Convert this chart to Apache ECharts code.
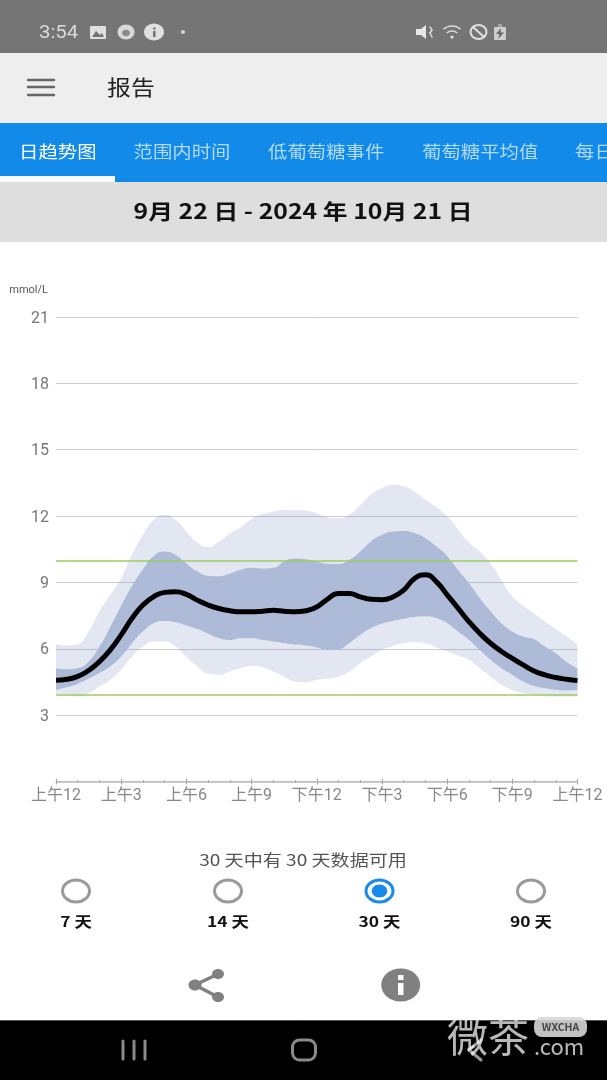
<!DOCTYPE html>
<html>
<head>
    <meta charset="utf-8">
    <title>报告</title>
    <script src="https://cdn.jsdelivr.net/npm/echarts@6/dist/echarts.min.js"></script>
    <style>
        html, body { margin: 0; padding: 0; background: #fff; }
    </style>
</head>
<body>
<div id="main" style="width: 607px;height:1080px;"></div>
<script type="text/javascript">
    var FONT = '"Noto Sans CJK SC", sans-serif';
    var NUM_FONT = 'Roboto, "Noto Sans CJK SC", sans-serif';

    // hour, p5, p25, p50, p75, p95 (mmol/L)
    var rows = [
        [0, 3.99, 4.14, 4.58, 5.12, 6.20],
        [0.5, 3.89, 4.26, 4.62, 5.08, 6.15],
        [1, 3.84, 4.41, 4.75, 5.12, 6.20],
        [1.5, 3.99, 4.64, 5.02, 5.42, 6.78],
        [2, 4.29, 4.90, 5.42, 6.10, 7.70],
        [2.5, 4.60, 5.20, 5.95, 7.00, 8.44],
        [3, 5.05, 5.65, 6.63, 7.95, 9.20],
        [3.5, 5.65, 6.25, 7.38, 8.85, 10.25],
        [4, 6.10, 6.78, 7.98, 9.60, 11.15],
        [4.5, 6.33, 7.16, 8.36, 10.20, 11.83],
        [5, 6.33, 7.26, 8.55, 10.40, 12.06],
        [5.5, 6.10, 7.20, 8.58, 10.25, 11.83],
        [6, 5.65, 7.05, 8.46, 9.86, 11.30],
        [6.5, 5.20, 6.89, 8.20, 9.50, 10.80],
        [7, 4.87, 6.68, 7.98, 9.30, 10.60],
        [7.5, 4.82, 6.48, 7.82, 9.28, 10.85],
        [8, 4.97, 6.40, 7.72, 9.40, 11.20],
        [8.5, 5.12, 6.48, 7.67, 9.57, 11.50],
        [9, 5.23, 6.48, 7.67, 9.66, 11.87],
        [9.5, 5.17, 6.40, 7.70, 9.63, 12.10],
        [10, 4.97, 6.33, 7.74, 9.66, 12.20],
        [10.5, 4.75, 6.25, 7.70, 9.95, 12.27],
        [11, 4.52, 6.18, 7.67, 10.08, 12.27],
        [11.5, 4.49, 6.15, 7.72, 10.05, 12.25],
        [12, 4.60, 6.06, 7.89, 9.95, 12.13],
        [12.5, 4.64, 5.95, 8.25, 9.84, 11.95],
        [13, 4.75, 5.98, 8.50, 9.83, 11.90],
        [13.5, 4.97, 6.25, 8.50, 10.02, 12.06],
        [14, 5.35, 6.63, 8.35, 10.40, 12.50],
        [14.5, 5.65, 6.93, 8.24, 10.85, 12.97],
        [15, 5.95, 7.13, 8.22, 11.15, 13.27],
        [15.5, 6.13, 7.26, 8.34, 11.30, 13.42],
        [16, 6.25, 7.35, 8.65, 11.33, 13.35],
        [16.5, 6.30, 7.44, 9.18, 11.23, 13.10],
        [17, 6.25, 7.46, 9.35, 11.00, 12.74],
        [17.5, 6.06, 7.38, 9.04, 10.63, 12.40],
        [18, 5.88, 7.16, 8.44, 10.20, 12.00],
        [18.5, 5.70, 6.78, 7.84, 9.57, 11.40],
        [19, 5.50, 6.40, 7.23, 8.97, 10.80],
        [19.5, 5.12, 5.95, 6.70, 8.30, 10.40],
        [20, 4.75, 5.50, 6.25, 7.70, 9.87],
        [20.5, 4.37, 5.12, 5.88, 7.16, 9.10],
        [21, 4.14, 4.82, 5.57, 6.78, 8.36],
        [21.5, 3.99, 4.52, 5.27, 6.55, 7.94],
        [22, 3.92, 4.32, 5.00, 6.43, 7.60],
        [22.5, 3.87, 4.22, 4.82, 6.10, 7.23],
        [23, 3.84, 4.14, 4.70, 5.80, 6.90],
        [23.5, 3.84, 4.11, 4.62, 5.40, 6.55],
        [24, 3.84, 4.14, 4.56, 5.12, 6.18]
    ];

    var hourLabels = {0: '上午12', 3: '上午3', 6: '上午6', 9: '上午9', 12: '下午12', 15: '下午3', 18: '下午6', 21: '下午9', 24: '上午12'};

    // stacked bands are drawn from the difference between two percentile columns
    function band(from, to) {
        return rows.map(function (r) {
            return from < 0 ? r[to] : +(r[to] - r[from]).toFixed(2);
        });
    }

    function bandSeries(name, data, color) {
        return {
            name: name,
            type: 'line',
            xAxisIndex: 2,
            stack: 'agp',
            smooth: true,
            symbol: 'none',
            silent: true,
            z: 2,
            lineStyle: {width: 0, opacity: 0},
            areaStyle: color ? {color: color, opacity: 1} : {opacity: 0},
            data: data
        };
    }

    // the screenshot is stretched sideways, so text takes a horizontal scale
    function text(x, y, str, size, color, weight, align, sx) {
        return {
            type: 'text', x: x, y: y, scaleX: sx || 1, silent: true,
            style: {
                text: str, fill: color, align: align || 'left', verticalAlign: 'middle',
                font: (weight || 'normal') + ' ' + size + 'px ' + FONT
            }
        };
    }
    function rect(x, y, w, h, fill, r) {
        return {type: 'rect', silent: true, shape: {x: x, y: y, width: w, height: h, r: r || 0}, style: {fill: fill}};
    }
    function line(x1, y1, x2, y2, color, width) {
        return {
            type: 'line', silent: true, shape: {x1: x1, y1: y1, x2: x2, y2: y2},
            style: {stroke: color, lineWidth: width, lineCap: 'round'}
        };
    }
    function oval(cx, cy, rx, ry, fill, stroke, width) {
        return {
            type: 'ellipse', silent: true, shape: {cx: cx, cy: cy, rx: rx, ry: ry},
            style: {fill: fill || 'transparent', stroke: stroke || null, lineWidth: width || 0}
        };
    }

    var ui = [
        // status bar
        rect(0, 0, 607, 53, '#757575'),
        {type: 'text', x: 39, y: 33, scaleX: 1.1, silent: true, style: {text: '3:54', fill: '#dcdcdc', verticalAlign: 'middle', font: '18.5px ' + NUM_FONT}},
        rect(90, 26, 16, 13, '#e0e0e0', 1),
        {type: 'polygon', silent: true, shape: {points: [[92, 37], [96, 31], [100, 35], [102, 33], [104, 37]]}, style: {fill: '#757575'}},
        oval(126, 32, 8.5, 7.5, '#d8d8d8'),
        oval(126, 33, 4, 3.2, '#8a8a8a'),
        oval(154, 32, 10, 8.5, '#e0e0e0'),
        rect(153, 31, 2.6, 6, '#757575'),
        rect(153, 27.5, 2.6, 2, '#757575'),
        oval(183, 32, 2, 2, '#d8d8d8'),
        {type: 'polygon', silent: true, shape: {points: [[416, 29], [421, 29], [426, 25], [426, 39], [421, 35], [416, 35]]}, style: {fill: '#e8e8e8'}},
        line(430, 27, 432, 30, '#e0e0e0', 1.4),
        line(432, 30, 430, 33, '#e0e0e0', 1.4),
        line(430, 33, 432, 37, '#e0e0e0', 1.4),
        {type: 'arc', silent: true, shape: {cx: 452, cy: 39, r: 13, startAngle: -2.3, endAngle: -0.85}, style: {stroke: '#d8d8d8', lineWidth: 1.5, fill: 'none'}},
        {type: 'arc', silent: true, shape: {cx: 452, cy: 39, r: 8, startAngle: -2.3, endAngle: -0.85}, style: {stroke: '#d8d8d8', lineWidth: 1.5, fill: 'none'}},
        oval(452, 37, 1.6, 1.6, '#e0e0e0'),
        oval(478.5, 32, 8, 7, null, '#e0e0e0', 2),
        line(473, 27, 484, 37, '#e0e0e0', 2),
        rect(494, 27, 12, 13, '#cfcfcf', 1),
        rect(498, 24, 4, 3, '#a8a8a8'),
        {type: 'polygon', silent: true, shape: {points: [[501, 28], [496, 34], [499.5, 34], [498, 39], [504, 32.5], [500.5, 32.5]]}, style: {fill: '#666'}},

        // app bar
        rect(0, 53, 607, 70, '#eeeeee'),
        line(28, 80, 54, 80, '#666', 2.4),
        line(28, 87, 54, 87, '#666', 2.4),
        line(28, 95, 54, 95, '#666', 2.4),
        text(107, 87, '报告', 21, '#222', 'normal', 'left', 1.14),

        // tabs
        rect(0, 123, 607, 59, '#118aea'),
        text(19, 152, '日趋势图', 17, '#ffffff', 'normal', 'left', 1.14),
        text(133.5, 152, '范围内时间', 17, '#b4dafa', 'normal', 'left', 1.14),
        text(268, 152, '低葡萄糖事件', 17, '#b4dafa', 'normal', 'left', 1.14),
        text(422, 152, '葡萄糖平均值', 17, '#b4dafa', 'normal', 'left', 1.14),
        text(575, 152, '每日', 17, '#b4dafa', 'normal', 'left', 1.14),
        rect(0, 176, 115, 6, '#f6fbff'),

        // date bar
        rect(0, 182, 607, 60, '#dedede'),
        text(303, 211, '9月 22 日 - 2024 年 10月 21 日', 21, '#111', 'bold', 'center', 1.18),

        // period picker
        text(303, 860, '30 天中有 30 天数据可用', 15.5, '#555', 'normal', 'center', 1.23),
        oval(76, 891, 13.5, 11, null, '#9a9a9a', 3),
        oval(228, 891, 13.5, 11, null, '#9a9a9a', 3),
        oval(379.5, 891, 13.5, 11, null, '#1a8ae8', 3),
        oval(379.5, 891, 7.8, 6.5, '#1a8ae8'),
        oval(531, 891, 13.5, 11, null, '#9a9a9a', 3),
        text(76, 921.5, '7 天', 14.5, '#111', 'bold', 'center', 1.2),
        text(228, 921.5, '14 天', 14.5, '#111', 'bold', 'center', 1.2),
        text(379.5, 921.5, '30 天', 14.5, '#111', 'bold', 'center', 1.2),
        text(531, 921.5, '90 天', 14.5, '#111', 'bold', 'center', 1.2),

        // share / info
        line(195, 985, 218, 974, '#808080', 3.5),
        line(195, 985, 218, 997, '#808080', 3.5),
        oval(195, 985, 6.5, 5.5, '#808080'),
        oval(218, 974, 6, 5, '#808080'),
        oval(218, 997, 6, 5, '#808080'),
        oval(400.7, 985, 19.5, 16.5, '#808080'),
        rect(398, 983, 5.5, 12, '#ffffff'),
        rect(398, 975, 5.5, 5, '#ffffff'),

        // nav bar
        rect(0, 1020, 607, 60, '#000000'),
        line(0, 1020.5, 607, 1020.5, '#555', 1),
        line(123, 1041, 123, 1059, '#8a8a8a', 3),
        line(134, 1041, 134, 1059, '#8a8a8a', 3),
        line(145, 1041, 145, 1059, '#8a8a8a', 3),
        {type: 'rect', silent: true, shape: {x: 292.5, y: 1040, width: 23, height: 20, r: 7}, style: {fill: 'none', stroke: '#8a8a8a', lineWidth: 3}},
        line(481, 1040, 469, 1050, '#9a9a9a', 3),
        line(469, 1050, 481, 1060, '#9a9a9a', 3),

        // watermark
        text(447, 1036, '微茶', 41, 'rgba(255,255,255,0.72)'),
        rect(534, 1017, 53, 20, 'rgba(215,215,215,0.9)', 8),
        text(560.5, 1027.5, 'WXCHA', 10.5, '#444', 'bold', 'center'),
        text(534, 1047, '.com', 22, 'rgba(255,255,255,0.72)')
    ];

    var myChart = echarts.init(document.getElementById('main'));

    var bandLight = 'rgba(114,133,186,0.2)';
    var bandDark = '#adbbd8';

    var topBand = bandSeries('p95', band(4, 5), bandLight);
    topBand.markLine = {
        silent: true,
        symbol: 'none',
        animation: false,
        z: 3,
        label: {show: false},
        lineStyle: {color: '#9ccb62', width: 1.6, type: 'solid'},
        data: [{yAxis: 10}, {yAxis: 3.9}]
    };

    myChart.setOption({
        animation: false,
        graphic: {elements: ui},
        grid: {left: 56, right: 29.5, top: 317, bottom: 298.5, containLabel: false},
        xAxis: [
            {
                type: 'value', min: 0, max: 24, interval: 3,
                axisLine: {show: true, onZero: false, lineStyle: {color: '#bbbbbb', width: 1.5}},
                axisTick: {show: true, length: 3, lineStyle: {color: '#aaaaaa'}},
                minorTick: {show: true, splitNumber: 3, length: 1.5, lineStyle: {color: '#aaaaaa'}},
                splitLine: {show: false},
                axisLabel: {
                    margin: 6, fontSize: 16, color: '#888888', fontFamily: NUM_FONT,
                    showMinLabel: true, showMaxLabel: true, hideOverlap: false,
                    formatter: function (v) { return hourLabels[v]; }
                }
            },
            {
                // second axis on the same line gives the ticks their upper half
                type: 'value', min: 0, max: 24, interval: 3, position: 'bottom',
                axisLine: {show: false},
                axisTick: {show: true, inside: true, length: 3, lineStyle: {color: '#aaaaaa'}},
                minorTick: {show: true, splitNumber: 3, length: 1.5, lineStyle: {color: '#aaaaaa'}},
                splitLine: {show: false},
                axisLabel: {show: false}
            },
            {
                // half hour slots the stacked bands sit on
                type: 'category', show: false, boundaryGap: false, position: 'bottom',
                data: rows.map(function (r) { return r[0]; })
            }
        ],
        yAxis: {
            type: 'value', min: 0, max: 21, interval: 3,
            name: 'mmol/L',
            nameLocation: 'end',
            nameGap: 21,
            nameTextStyle: {fontSize: 11, color: '#555555', fontFamily: NUM_FONT, align: 'right', padding: [0, 8, 0, 0]},
            axisLine: {show: false},
            axisTick: {show: false},
            splitLine: {lineStyle: {color: '#cccccc', width: 1}},
            axisLabel: {
                margin: 7, fontSize: 16, color: '#777777', fontFamily: NUM_FONT,
                verticalAlign: 'top', lineHeight: 3,
                formatter: function (v) { return v === 0 ? '' : String(v); }
            }
        },
        series: [
            bandSeries('p5', band(-1, 1), null),
            bandSeries('p25', band(1, 2), bandLight),
            bandSeries('p75', band(2, 4), bandDark),
            topBand,
            {
                name: 'p50',
                type: 'line',
                xAxisIndex: 2,
                smooth: true,
                symbol: 'none',
                silent: true,
                z: 4,
                lineStyle: {color: '#000000', width: 5},
                data: rows.map(function (r) { return r[3]; })
            }
        ]
    });
</script>
</body>
</html>
